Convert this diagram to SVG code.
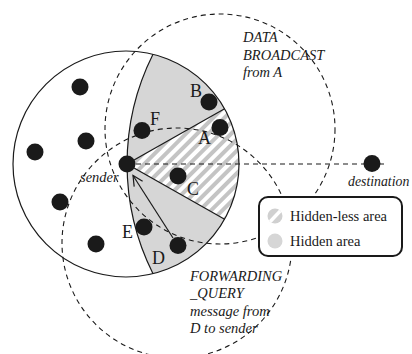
<svg xmlns="http://www.w3.org/2000/svg" width="412" height="354" viewBox="0 0 412 354">
<style>
.dot{fill:#1a1a1a}
.lbl{font-family:"Liberation Serif",serif;font-size:18px;fill:#1a1a1a}
.it{font-family:"Liberation Serif",serif;font-size:14.5px;font-style:italic;fill:#1a1a1a}
.lg{font-family:"Liberation Serif",serif;font-size:14.5px;fill:#1a1a1a}
.dash{fill:none;stroke:#1a1a1a;stroke-width:1.1;stroke-dasharray:5,4}
.solid{fill:none;stroke:#1a1a1a;stroke-width:1.2}
</style>
<defs>
<pattern id="hatch" patternUnits="userSpaceOnUse" width="8" height="8" patternTransform="rotate(45)">
<rect width="8" height="8" fill="#fff"/>
<rect width="4" height="8" fill="#c4c4c4"/>
</pattern>
<marker id="arr" markerUnits="userSpaceOnUse" markerWidth="14" markerHeight="14" refX="11" refY="6" orient="auto">
<path d="M1,1 L11,6 L1,11" fill="none" stroke="#1a1a1a" stroke-width="1.2"/>
</marker>
<clipPath id="lgclip"><circle cx="275" cy="216" r="7.5"/></clipPath>
</defs>
<rect width="412" height="354" fill="#fff"/>
<g id="regions">
<path d="M153,54.3 A245,245 0 0 0 127,164 L224.6,108.8 A113,113 0 0 0 153,54.3 Z" fill="#d6d6d6"/>
<path d="M153,273.7 A245,245 0 0 1 127,164 L224.6,219.2 A113,113 0 0 1 153,273.7 Z" fill="#d6d6d6"/>
<path d="M127,164 L224.6,108.8 A113,113 0 0 1 224.6,219.2 Z" fill="url(#hatch)"/>
<circle cx="126" cy="164" r="113" class="solid"/>
<path d="M153,54.3 A245,245 0 0 0 153,273.7" class="solid"/>
<path d="M224.6,108.8 L127,164 L224.6,219.2" class="solid"/>
</g>
<g id="ranges">
<circle cx="220" cy="129" r="115" class="dash"/>
<circle cx="177" cy="243" r="115" class="dash"/>
</g>
<g id="connectors">
<line x1="127" y1="164" x2="386" y2="164" class="dash" stroke-dasharray="6,4"/>
<line x1="173" y1="238" x2="133" y2="175.5" class="solid" marker-end="url(#arr)"/>
</g>
<g id="n1"><circle cx="80" cy="87" r="8.5" class="dot"/></g>
<g id="n2"><circle cx="86" cy="141" r="8.5" class="dot"/></g>
<g id="n3"><circle cx="35" cy="152" r="8.5" class="dot"/></g>
<g id="n4"><circle cx="60" cy="202" r="8.5" class="dot"/></g>
<g id="n5"><circle cx="96" cy="244" r="8.5" class="dot"/></g>
<g id="sender"><circle cx="127" cy="164" r="8.5" class="dot"/><text x="80" y="182" class="it">sender</text></g>
<g id="A"><circle cx="220" cy="127.5" r="8.5" class="dot"/><text x="198" y="143.5" class="lbl">A</text></g>
<g id="B"><circle cx="209" cy="102" r="8.5" class="dot"/><text x="190" y="96.5" class="lbl">B</text></g>
<g id="C"><circle cx="178" cy="176" r="8.5" class="dot"/><text x="187" y="195" class="lbl">C</text></g>
<g id="D"><circle cx="178" cy="245.5" r="8.5" class="dot"/><text x="152" y="263.5" class="lbl">D</text></g>
<g id="E"><circle cx="144" cy="227" r="8.5" class="dot"/><text x="122" y="237.5" class="lbl">E</text></g>
<g id="F"><circle cx="142" cy="130.5" r="8.5" class="dot"/><text x="150" y="125" class="lbl">F</text></g>
<g id="destination"><circle cx="372" cy="163.5" r="8.5" class="dot"/><text x="348" y="186" class="it" style="font-size:13.8px">destination</text></g>
<g id="captionA">
<text class="it"><tspan x="243" y="42">DATA</tspan><tspan x="243" y="60">BROADCAST</tspan><tspan x="243" y="77">from A</tspan></text>
</g>
<g id="captionD">
<text class="it"><tspan x="190" y="281">FORWARDING</tspan><tspan x="190" y="298">_QUERY</tspan><tspan x="190" y="316">message from</tspan><tspan x="190" y="333">D to sender</tspan></text>
</g>
<g id="legend">
<rect x="259" y="197" width="143" height="59" rx="9" fill="#fff" stroke="#1a1a1a" stroke-width="2"/>
<circle cx="275" cy="216" r="7.5" fill="#d0d0d0"/>
<line x1="268" y1="224" x2="283" y2="208" stroke="#fff" stroke-width="3.5" clip-path="url(#lgclip)"/>
<circle cx="275" cy="241" r="7.5" fill="#d6d6d6"/>
<text x="290" y="221" class="lg">Hidden-less area</text>
<text x="290" y="246" class="lg">Hidden area</text>
</g>
</svg>
